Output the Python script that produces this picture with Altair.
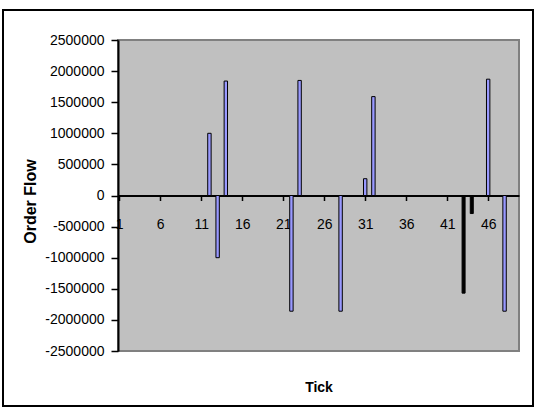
import altair as alt
import pandas as pd

# Blue series (category tick, order flow)
blue_ticks = [12, 13, 14, 22, 23, 28, 31, 32, 46, 48]
blue_flow = [1000000, -1000000, 1840000, -1860000, 1850000, -1860000, 270000, 1590000, 1870000, -1860000]
# Black series
black_ticks = [43, 44]
black_flow = [-1570000, -290000]

x_label_values = [1, 6, 11, 16, 21, 26, 31, 36, 41, 46]
y_label_values = [-2500000, -2000000, -1500000, -1000000, -500000, 0, 500000, 1000000, 1500000, 2000000, 2500000]

blue_df = pd.DataFrame({"tick": blue_ticks, "flow": blue_flow})
black_df = pd.DataFrame({"tick": black_ticks, "flow": black_flow})

W, H = 401, 311
LEFT, TOP = 118, 40

xscale = alt.Scale(domain=[0.848, 49.76], nice=False, zero=False, padding=0)
yscale = alt.Scale(domain=[-2500000, 2500000], nice=False, padding=0)

x_axis = alt.Axis(
    values=x_label_values, tickCount=len(x_label_values), labelExpr="'' + datum.value", grid=False,
    offset=-155.5, domainColor="black", domainWidth=2,
    tickColor="black", tickSize=5, tickWidth=1.5,
    labelFontSize=14, labelFont="Liberation Sans", labelColor="black", labelPadding=17,
    labelFlush=False, labelOverlap=False,
    title="Tick", titleFont="Liberation Sans", titleFontSize=14, titleFontWeight="bold",
    titleColor="black", titleY=191.5, titleBaseline="middle",
)
y_axis = alt.Axis(
    values=y_label_values, tickCount=len(y_label_values), labelExpr="'' + datum.value", grid=False,
    domainColor="black", domainWidth=2, tickColor="black", tickSize=7, tickWidth=1.5,
    labelFontSize=14, labelFont="Liberation Sans", labelColor="black", labelPadding=7,
    labelOverlap=False, labelFlush=False,
    title="Order Flow", titleFont="Liberation Sans", titleFontSize=16, titleFontWeight="bold",
    titleColor="black", titleAngle=270, titleX=-88, titleY=161,
    titleAlign="center", titleBaseline="middle",
)

border = alt.Chart(alt.Data(values=[{}])).mark_rect(
    fillOpacity=0, stroke="black", strokeWidth=2
).encode(
    x=alt.value(-115), x2=alt.value(415), y=alt.value(-30), y2=alt.value(366)
)

blue = alt.Chart(blue_df).mark_bar(
    size=3.4, fill="#9999FF", stroke="black", strokeWidth=1
).encode(
    x=alt.X("tick:Q", scale=xscale, axis=x_axis),
    y=alt.Y("flow:Q", scale=yscale, axis=y_axis),
)

black = alt.Chart(black_df).mark_bar(
    size=3.0, fill="black", stroke="black", strokeWidth=1
).encode(
    x=alt.X("tick:Q", scale=xscale, axis=x_axis),
    y=alt.Y("flow:Q", scale=yscale, axis=y_axis),
)

chart = alt.layer(border, blue, black).properties(
    width=W, height=H,
    autosize=alt.AutoSizeParams(type="none"),
    padding={"left": LEFT, "top": TOP, "right": 537 - LEFT - W, "bottom": 410 - TOP - H},
    background="white",
).configure_view(
    fill="#C0C0C0", stroke="#808080", strokeWidth=2
)

chart.save("out.html", embed_options={"renderer": "svg", "actions": False})
